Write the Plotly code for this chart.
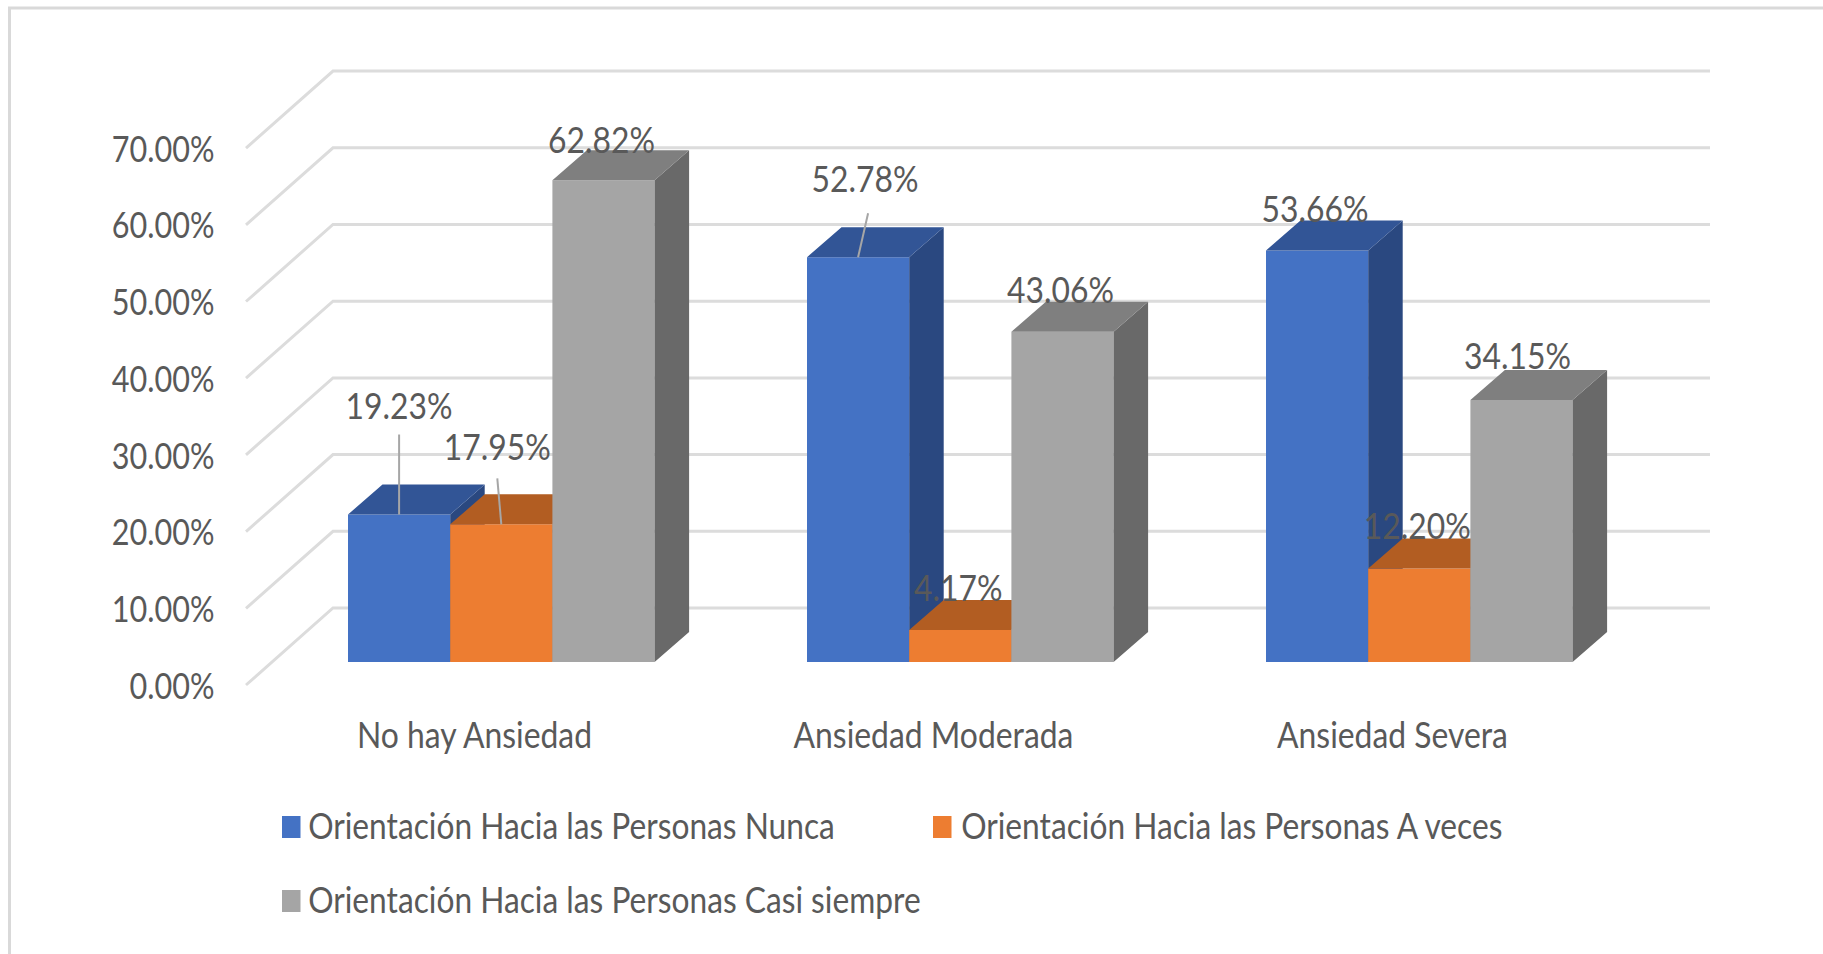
import plotly.graph_objects as go

categories = ["No hay Ansiedad", "Ansiedad Moderada", "Ansiedad Severa"]
series_names = ["Orientación Hacia las Personas Nunca",
                "Orientación Hacia las Personas A veces",
                "Orientación Hacia las Personas Casi siempre"]
nunca = [19.23, 52.78, 53.66]
a_veces = [17.95, 4.17, 12.20]
casi_siempre = [62.82, 43.06, 34.15]
axis_ticks = [0, 10, 20, 30, 40, 50, 60, 70]

W, H = 1823, 954
FONT = "Lato"
FONT_SIZE = 36
TXT = "#595959"
GRID = "#DCDCDC"
front = ["#4472C4", "#ED7D31", "#A5A5A5"]
top_c = ["#325596", "#B25D22", "#7F7F7F"]
side_c = ["#2A4880", "#A04F1C", "#696969"]

# scales (pixels per unit)
PX_X = 459.0      # one category
PX_Y = 7.67       # one percent
X0 = 246.0        # page x of the front-left floor corner
Y_FLOOR = 685.0   # page y of 0 on the axis plane
Y_BASE = 662.0    # page y of 0 on the bars' front plane

WALL_DX, WALL_DY = 87 / PX_X, 77 / PX_Y
WALL_W = 3.0
BAR_DX, BAR_DY = 34.5 / PX_X, 30 / PX_Y
BAR_W = 102.2 / PX_X
BAR_START = 102 / PX_X

x_range = [-X0 / PX_X, (W - X0) / PX_X]
floor_range = [(Y_FLOOR - H) / PX_Y, Y_FLOOR / PX_Y]
bar_range = [(Y_BASE - H) / PX_Y, Y_BASE / PX_Y]

fig = go.Figure()

# gridlines: side wall + back wall, on the axis plane
gx, gy = [], []
for t in axis_ticks:
    gx += [0, WALL_DX, WALL_DX + WALL_W, None]
    gy += [t, t + WALL_DY, t + WALL_DY, None]
fig.add_trace(go.Scatter(x=gx, y=gy, mode="lines", line=dict(color=GRID, width=3),
                         hoverinfo="skip", showlegend=False, xaxis="x", yaxis="y"))

all_series = [nunca, a_veces, casi_siempre]
for i, vals in enumerate(all_series):
    xa, ya = f"x{i+2}", f"y{i+2}"
    lefts = [g + BAR_START + i * BAR_W for g in range(3)]
    fig.add_trace(go.Bar(x=[l + BAR_W / 2 for l in lefts], y=vals, width=BAR_W, name=series_names[i],
                         marker=dict(color=front[i], line=dict(width=0)),
                         showlegend=False, xaxis=xa, yaxis=ya))
    sx, sy, tx, ty = [], [], [], []
    for l, v in zip(lefts, vals):
        r = l + BAR_W
        sx += [r, r + BAR_DX, r + BAR_DX, r, r, None]
        sy += [0, BAR_DY, v + BAR_DY, v, 0, None]
        tx += [l, l + BAR_DX, r + BAR_DX, r, l, None]
        ty += [v, v + BAR_DY, v + BAR_DY, v, v, None]
    for px_, py_, c in ((sx, sy, side_c[i]), (tx, ty, top_c[i])):
        fig.add_trace(go.Scatter(x=px_, y=py_, mode="lines", fill="toself", fillcolor=c,
                                 line=dict(width=0, color=c), hoverinfo="skip",
                                 showlegend=False, xaxis=xa, yaxis=ya))

# data labels: offsets from bar top, (px right, px up) per series / category
label_dx = [[0, 7, -2], [-4, -2, -2], [-2, -2, -4]]
label_up = [[105, 74, 37], [73, 38, 38], [36, 38, 40]]
leader_from = {(0, 0): 80, (1, 0): 46, (0, 1): 44}
leader_dx = {(0, 0): 0, (1, 0): -4, (0, 1): 10}

lx, ly = [], []
for (i, g), up in leader_from.items():
    c = g + BAR_START + (i + 0.5) * BAR_W
    v = all_series[i][g]
    lx += [c, c + leader_dx[(i, g)] / PX_X, None]
    ly += [v, v + up / PX_Y, None]
fig.add_trace(go.Scatter(x=lx, y=ly, mode="lines", line=dict(color="#A6A6A6", width=2),
                         hoverinfo="skip", showlegend=False, xaxis="x5", yaxis="y5"))
for i, vals in enumerate(all_series):
    fig.add_trace(go.Scatter(
        x=[g + BAR_START + (i + 0.5) * BAR_W + label_dx[i][g] / PX_X for g in range(3)],
        y=[v + label_up[i][g] / PX_Y for g, v in enumerate(vals)],
        text=[f"{v:.2f}%" for v in vals], mode="text", textposition="middle center",
        textfont=dict(family=FONT, size=FONT_SIZE, color=TXT), hoverinfo="skip",
        showlegend=False, xaxis="x5", yaxis="y5"))

# frame and legend, in page fractions
px = lambda v: v / W
py = lambda v: 1 - v / H
shapes = [
    dict(type="line", xref="paper", yref="paper", x0=px(9.5), x1=px(9.5), y0=py(8), y1=py(H),
         line=dict(color="#D9D9D9", width=3)),
    dict(type="line", xref="paper", yref="paper", x0=px(8), x1=1, y0=py(8), y1=py(8),
         line=dict(color="#D9D9D9", width=3)),
]
legend_pos = [(282, 827, 307), (933, 827, 960), (282, 901, 307)]
annotations = []
for i, (sx_, cy, tx_) in enumerate(legend_pos):
    shapes.append(dict(type="rect", xref="paper", yref="paper", x0=px(sx_), x1=px(sx_ + 18.5),
                       y0=py(cy - 11), y1=py(cy + 11), fillcolor=front[i], line=dict(width=0)))
    annotations.append(dict(xref="paper", yref="paper", x=px(tx_), y=py(cy - 2.5), text=series_names[i],
                            xanchor="left", yanchor="middle", showarrow=False, borderpad=0,
                            font=dict(family=FONT, size=FONT_SIZE, color=TXT)))

layout_axes = {}
for n in range(2, 6):
    layout_axes[f"xaxis{n}"] = dict(overlaying="x", anchor=f"y{n}", range=x_range, visible=False, fixedrange=True)
    layout_axes[f"yaxis{n}"] = dict(overlaying="y", anchor=f"x{n}", range=bar_range, visible=False, fixedrange=True)

fig.update_layout(
    width=W, height=H, margin=dict(l=0, r=0, t=0, b=0, pad=0),
    paper_bgcolor="white", plot_bgcolor="white", barmode="overlay", showlegend=False,
    xaxis=dict(domain=[0, 1], range=x_range, tickmode="array",
               tickvals=[g + 0.5 for g in range(3)], ticktext=categories,
               anchor="free", position=1 - 711 / H, showgrid=False, zeroline=False,
               showline=False, ticks="", fixedrange=True, ticklabelshift=-1,
               tickfont=dict(family=FONT, size=FONT_SIZE, color=TXT)),
    yaxis=dict(domain=[0, 1], range=floor_range, tickmode="array", tickvals=axis_ticks,
               ticktext=[f"{t:.2f}%" for t in axis_ticks],
               anchor="free", position=214.5 / W, showgrid=False, zeroline=False,
               showline=False, ticks="", fixedrange=True, ticklabelshift=1,
               tickfont=dict(family=FONT, size=FONT_SIZE, color=TXT)),
    shapes=shapes, annotations=annotations, **layout_axes,
)

# The reference type is tall and narrow; no condensed face is installed, so the text
# elements are squeezed horizontally around their anchor (they stay real SVG text).
post = """
document.body.style.margin='0';document.body.style.overflow='hidden';
(function(){
  function squeeze(){
    document.querySelectorAll('.main-svg text').forEach(function(t){
      if(t.dataset.sq||!t.textContent)return;
      var b=t.getBBox(); if(!b.width)return;
      var k=t.closest('.ytick')?0.85:(t.closest('.annotation')?0.881:0.885);
      var a=t.getAttribute('text-anchor')||t.style.textAnchor||'start';
      var cx=t.closest('.annotation')?b.x:(a==='end'?b.x+b.width:(a==='middle'?b.x+b.width/2:b.x));
      var tr=t.getAttribute('transform')||'';
      t.setAttribute('transform',tr+' translate('+cx+',0) scale('+k+',1) translate('+(-cx)+',0)');
      t.dataset.sq='1';
    });
  }
  squeeze(); setTimeout(squeeze,30); setTimeout(squeeze,200);
})();
"""

fig.write_html("out.html", config={"displayModeBar": False}, post_script=post)
